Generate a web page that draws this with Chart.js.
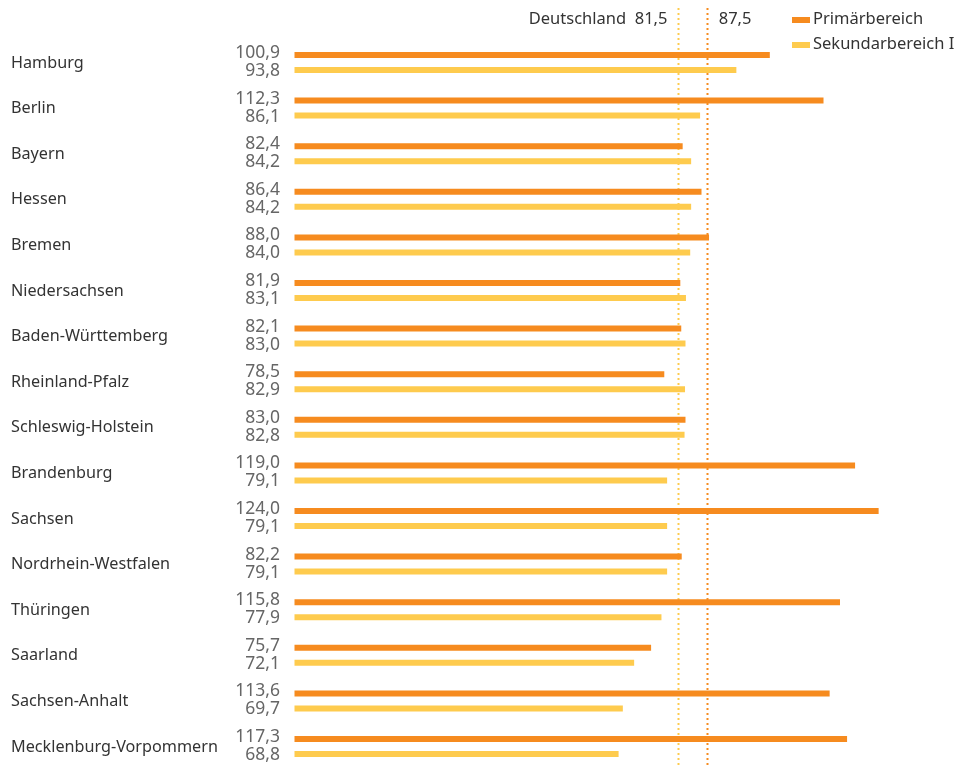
<!DOCTYPE html>
<html><head><meta charset="utf-8">
<script src="https://cdn.jsdelivr.net/npm/chart.js@4"></script>
<style>html,body{margin:0;padding:0;overflow:hidden;background:#fff}#wrap{position:relative;width:954px;height:766px}</style>
</head><body><div id="wrap"><canvas id="c"></canvas></div>
<script>
const categories = ['Hamburg','Berlin','Bayern','Hessen','Bremen','Niedersachsen','Baden-Württemberg','Rheinland-Pfalz','Schleswig-Holstein','Brandenburg','Sachsen','Nordrhein-Westfalen','Thüringen','Saarland','Sachsen-Anhalt','Mecklenburg-Vorpommern'];
const primaer = [100.9,112.3,82.4,86.4,88.0,81.9,82.1,78.5,83.0,119.0,124.0,82.2,115.8,75.7,113.6,117.3];
const sekundar = [93.8,86.1,84.2,84.2,84.0,83.1,83.0,82.9,82.8,79.1,79.1,79.1,77.9,72.1,69.7,68.8];
const seriesNames = ['Primärbereich','Sekundarbereich I'];
const refValues = [81.5, 87.5];
const refLabels = ['Deutschland  81,5', '87,5'];

const ORANGE = '#F68B1F', YELLOW = '#FECB4E';
const FONT = '"Noto Sans", "Open Sans", sans-serif';
const fmt = v => v.toFixed(1).replace('.', ',');

const overlay = {
  id: 'overlay',
  beforeDatasetsDraw(chart) {
    const ctx = chart.ctx, xs = chart.scales.x;
    const cols = [YELLOW, ORANGE];
    ctx.save();
    refValues.forEach((v, i) => {
      const x = Math.round(xs.getPixelForValue(v)) + 0.5;
      ctx.strokeStyle = cols[i];
      ctx.lineWidth = 2;
      ctx.setLineDash([2, 3]);
      ctx.beginPath(); ctx.moveTo(x, 8); ctx.lineTo(x, 766); ctx.stroke();
    });
    ctx.restore();
  },
  afterDatasetsDraw(chart) {
    const ctx = chart.ctx, xs = chart.scales.x, ys = chart.scales.y;
    ctx.save();
    ctx.textBaseline = 'middle';
    // category labels
    ctx.fillStyle = '#333';
    ctx.font = '16.2px ' + FONT;
    ctx.textAlign = 'left';
    categories.forEach((c, i) => ctx.fillText(c, 11, ys.getPixelForValue(i) + 0.5));
    // value labels
    ctx.fillStyle = '#666';
    ctx.font = '17.5px ' + FONT;
    ctx.textAlign = 'right';
    chart.data.datasets.forEach((ds, di) => {
      const meta = chart.getDatasetMeta(di);
      meta.data.forEach((bar, i) => {
        ctx.fillText(fmt(ds.data[i]), 280, bar.y + (di === 0 ? -2 : 1));
      });
    });
    // reference labels
    ctx.fillStyle = '#333';
    ctx.font = '16.5px ' + FONT;
    ctx.textAlign = 'right';
    ctx.fillText(refLabels[0], xs.getPixelForValue(refValues[0]) - 11, 19);
    ctx.textAlign = 'left';
    ctx.fillText(refLabels[1], xs.getPixelForValue(refValues[1]) + 12, 19);
    // legend
    ctx.font = '16.5px ' + FONT;
    chart.data.datasets.forEach((ds, di) => {
      const y = 20 + di * 25;
      ctx.fillStyle = ds.backgroundColor;
      ctx.fillRect(792, y - 3, 18, 6);
      ctx.fillStyle = '#333';
      ctx.fillText(ds.label, 813, y - 1);
    });
    ctx.restore();
  }
};

new Chart(document.getElementById('c'), {
  type: 'bar',
  data: {
    labels: categories,
    datasets: [
      { label: seriesNames[0], data: primaer, backgroundColor: ORANGE, clip: false },
      { label: seriesNames[1], data: sekundar, backgroundColor: YELLOW, clip: false }
    ]
  },
  options: {
    indexAxis: 'y',
    responsive: true,
    maintainAspectRatio: false,
    animation: false,
    categoryPercentage: 0.66,
    barPercentage: 0.4,
    maxBarThickness: 6,
    layout: { padding: { left: 294.5, right: 0, top: 62.5, bottom: 19.5 } },
    scales: {
      x: { display: false, min: 0, max: 140 },
      y: { display: false, offset: false }
    },
    plugins: { legend: { display: false }, tooltip: { enabled: false } }
  },
  plugins: [overlay]
});
</script></body></html>
